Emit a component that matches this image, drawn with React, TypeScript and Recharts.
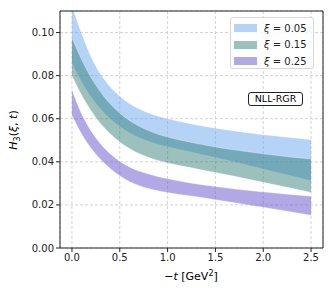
import React from 'react'
import {
  ComposedChart,
  Area,
  XAxis,
  YAxis,
  CartesianGrid,
  ReferenceArea,
} from 'recharts'

// -t in GeV^2
const tValues = [0, 0.1, 0.2, 0.3, 0.4, 0.5, 0.6, 0.7, 0.8, 0.9, 1.0, 1.25, 1.5, 1.75, 2.0, 2.25, 2.5]

// xi = 0.05
const blueHigh = [0.1125, 0.0997, 0.0887, 0.0807, 0.0748, 0.0704, 0.0671, 0.0646, 0.0627, 0.0612, 0.06, 0.0576, 0.0556, 0.054, 0.0526, 0.0514, 0.0503]
const blueLow = [0.0857, 0.0772, 0.0702, 0.0645, 0.06, 0.0564, 0.0535, 0.0513, 0.0495, 0.0481, 0.047, 0.0445, 0.042, 0.0394, 0.0367, 0.034, 0.0313]

// xi = 0.15
const tealHigh = [0.0976, 0.0875, 0.0791, 0.0723, 0.0669, 0.0626, 0.0592, 0.0566, 0.0545, 0.0528, 0.0515, 0.049, 0.0469, 0.0452, 0.0437, 0.0424, 0.0413]
const tealLow = [0.08, 0.0711, 0.0637, 0.0577, 0.053, 0.0492, 0.0462, 0.0439, 0.0421, 0.0406, 0.0395, 0.0372, 0.035, 0.0328, 0.0305, 0.0282, 0.0258]

// xi = 0.25
const purpleHigh = [0.0733, 0.0623, 0.0543, 0.0483, 0.0437, 0.0402, 0.0376, 0.0357, 0.0343, 0.0331, 0.0321, 0.0301, 0.0285, 0.0271, 0.026, 0.025, 0.024]
const purpleLow = [0.0615, 0.053, 0.0463, 0.0411, 0.0369, 0.0335, 0.0309, 0.029, 0.0276, 0.0266, 0.0258, 0.0241, 0.0224, 0.0207, 0.0189, 0.0171, 0.0152]

const xTicks = [0, 0.5, 1.0, 1.5, 2.0, 2.5]
const yTicks = [0, 0.02, 0.04, 0.06, 0.08, 0.1]

const legendItems = [
  { label: '0.05', color: '#69a7ef', opacity: 0.5 },
  { label: '0.15', color: '#28786f', opacity: 0.46 },
  { label: '0.25', color: '#6551cd', opacity: 0.5 },
]

const font = '"DejaVu Sans", sans-serif'

const data = tValues.map((t, i) => ({
  t,
  blue: [blueLow[i], blueHigh[i]],
  teal: [tealLow[i], tealHigh[i]],
  purple: [purpleLow[i], purpleHigh[i]],
}))

function YLabel() {
  return (
    <text
      x={0}
      y={0}
      transform="translate(17,130) rotate(-90)"
      textAnchor="middle"
      fontSize={11}
      fontFamily={font}
      fill="#000"
    >
      <tspan fontStyle="italic">H</tspan>
      <tspan fontSize={8} dy={3}>3</tspan>
      <tspan dy={-3}>(</tspan>
      <tspan fontStyle="italic">ξ</tspan>
      <tspan>, </tspan>
      <tspan fontStyle="italic">t</tspan>
      <tspan>)</tspan>
    </text>
  )
}

function XLabel() {
  return (
    <text x={191} y={280} textAnchor="middle" fontSize={11} fontFamily={font} fill="#000">
      <tspan>−</tspan>
      <tspan fontStyle="italic">t</tspan>
      <tspan> [GeV</tspan>
      <tspan fontSize={8} dy={-4}>2</tspan>
      <tspan dy={4}>]</tspan>
    </text>
  )
}

export default function App() {
  return (
    <div style={{ position: 'fixed', left: 0, top: 0, width: 333, height: 296, background: '#fff' }}>
      <ComposedChart
        width={333}
        height={296}
        data={data}
        margin={{ top: 11, right: 10, bottom: 18, left: 10 }}
      >
        <CartesianGrid stroke="#c8c8c8" strokeDasharray="3 2" strokeWidth={0.8} />
        <XAxis
          dataKey="t"
          type="number"
          domain={[-0.125, 2.625]}
          ticks={xTicks}
          allowDataOverflow
          height={30}
          tickFormatter={(v: number) => v.toFixed(1)}
          tick={{ fontSize: 10, fill: '#222', fontFamily: font }}
          tickSize={4}
          stroke="#222"
          tickLine={{ stroke: '#222' }}
          axisLine={false}
        />
        <YAxis
          type="number"
          domain={[0, 0.11]}
          ticks={yTicks}
          allowDataOverflow
          width={50}
          tickFormatter={(v: number) => v.toFixed(2)}
          tick={{ fontSize: 10, fill: '#222', fontFamily: font }}
          tickSize={4}
          stroke="#222"
          tickLine={{ stroke: '#222' }}
          axisLine={false}
        />
        <Area
          type="monotone"
          dataKey="blue"
          fill="#69a7ef"
          fillOpacity={0.5}
          stroke="#ffffff"
          strokeOpacity={0.5}
          strokeWidth={0.6}
          isAnimationActive={false}
        />
        <Area
          type="monotone"
          dataKey="teal"
          fill="#28786f"
          fillOpacity={0.46}
          stroke="#ffffff"
          strokeOpacity={0.5}
          strokeWidth={0.6}
          isAnimationActive={false}
        />
        <Area
          type="monotone"
          dataKey="purple"
          fill="#6551cd"
          fillOpacity={0.5}
          stroke="#ffffff"
          strokeOpacity={0.5}
          strokeWidth={0.6}
          isAnimationActive={false}
        />
        <ReferenceArea
          x1={-0.125}
          x2={2.625}
          y1={0}
          y2={0.11}
          fill="none"
          stroke="#222"
          strokeWidth={1}
          ifOverflow="extendDomain"
        />
        <YLabel />
        <XLabel />
      </ComposedChart>

      {/* legend box */}
      <div
        style={{
          position: 'absolute',
          left: 230,
          top: 17,
          width: 84,
          height: 52,
          border: '1px solid #d8d8d8',
          borderRadius: 3,
          background: 'rgba(255,255,255,0.8)',
          boxSizing: 'border-box',
          fontFamily: font,
          fontSize: 10,
          color: '#222',
        }}
      >
        {legendItems.map((item, i) => (
          <div
            key={item.label}
            style={{ position: 'absolute', left: 3, top: 3 + i * 16.5, height: 14, display: 'flex', alignItems: 'center' }}
          >
            <span
              style={{
                display: 'inline-block',
                width: 23,
                height: 8,
                background: item.color,
                opacity: item.opacity,
                marginRight: 7,
              }}
            />
            <span>
              <i>ξ</i> = {item.label}
            </span>
          </div>
        ))}
      </div>

      {/* annotation */}
      <div
        style={{
          position: 'absolute',
          left: 248,
          top: 92,
          width: 55,
          height: 14,
          border: '1px solid #222',
          borderRadius: 3,
          boxSizing: 'border-box',
          background: '#fff',
          fontFamily: font,
          fontSize: 9.5,
          lineHeight: '12px',
          textAlign: 'center',
          color: '#000',
        }}
      >
        NLL-RGR
      </div>
    </div>
  )
}
